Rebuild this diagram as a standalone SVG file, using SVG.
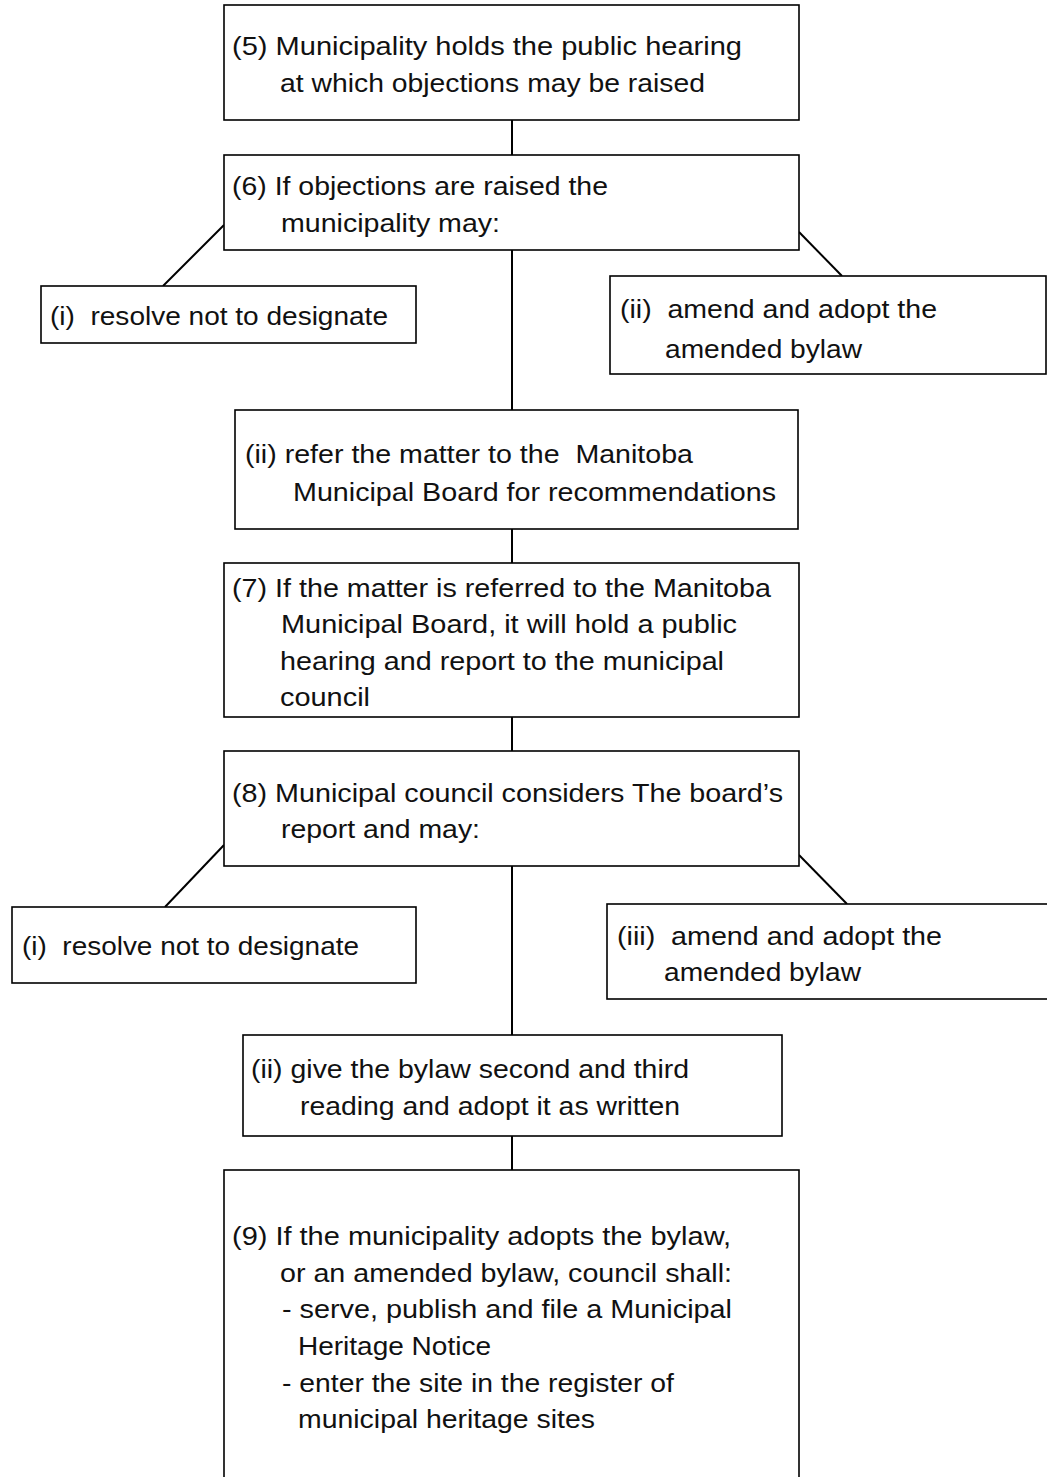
<svg xmlns="http://www.w3.org/2000/svg" width="1047" height="1477" viewBox="0 0 1047 1477">
<style>
rect{fill:#fff;stroke:#000;stroke-width:1.6}
line{stroke:#000;stroke-width:2}
text{font-family:"Liberation Sans",Arial,sans-serif;font-size:26px;fill:#111;white-space:pre}
</style>
<rect x="0" y="0" width="1047" height="1477" style="stroke:none"/>
<g id="connectors">
<line x1="512" y1="120" x2="512" y2="155"/>
<line x1="224" y1="225" x2="163" y2="286"/>
<line x1="799" y1="232" x2="842" y2="276"/>
<line x1="512" y1="250" x2="512" y2="410"/>
<line x1="512" y1="529" x2="512" y2="563"/>
<line x1="512" y1="717" x2="512" y2="751"/>
<line x1="224" y1="845" x2="165" y2="907"/>
<line x1="799" y1="855" x2="847" y2="904"/>
<line x1="512" y1="866" x2="512" y2="1035"/>
<line x1="512" y1="1136" x2="512" y2="1170"/>
</g>
<g id="n5"><rect x="224" y="5" width="575" height="115"/>
<text x="232" y="55" textLength="510" lengthAdjust="spacingAndGlyphs">(5) Municipality holds the public hearing</text>
<text x="280" y="92" textLength="425" lengthAdjust="spacingAndGlyphs">at which objections may be raised</text></g>
<g id="n6"><rect x="224" y="155" width="575" height="95"/>
<text x="232" y="195" textLength="376" lengthAdjust="spacingAndGlyphs">(6) If objections are raised the</text>
<text x="281" y="232" textLength="219" lengthAdjust="spacingAndGlyphs">municipality may:</text></g>
<g id="n6i"><rect x="41" y="286" width="375" height="57"/>
<text x="50" y="325" textLength="338" lengthAdjust="spacingAndGlyphs">(i)  resolve not to designate</text></g>
<g id="n6ii"><rect x="610" y="276" width="436" height="98"/>
<text x="620" y="318" textLength="317" lengthAdjust="spacingAndGlyphs">(ii)  amend and adopt the</text>
<text x="665" y="358" textLength="197" lengthAdjust="spacingAndGlyphs">amended bylaw</text></g>
<g id="n6refer"><rect x="235" y="410" width="563" height="119"/>
<text x="245" y="463" textLength="448" lengthAdjust="spacingAndGlyphs">(ii) refer the matter to the  Manitoba</text>
<text x="293" y="501" textLength="483" lengthAdjust="spacingAndGlyphs">Municipal Board for recommendations</text></g>
<g id="n7"><rect x="224" y="563" width="575" height="154"/>
<text x="232" y="597" textLength="539" lengthAdjust="spacingAndGlyphs">(7) If the matter is referred to the Manitoba</text>
<text x="281" y="633" textLength="456" lengthAdjust="spacingAndGlyphs">Municipal Board, it will hold a public</text>
<text x="280" y="670" textLength="444" lengthAdjust="spacingAndGlyphs">hearing and report to the municipal</text>
<text x="280" y="706" textLength="90" lengthAdjust="spacingAndGlyphs">council</text></g>
<g id="n8"><rect x="224" y="751" width="575" height="115"/>
<text x="232" y="802" textLength="551" lengthAdjust="spacingAndGlyphs">(8) Municipal council considers The board’s</text>
<text x="281" y="838" textLength="199" lengthAdjust="spacingAndGlyphs">report and may:</text></g>
<g id="n8i"><rect x="12" y="907" width="404" height="76"/>
<text x="22" y="955" textLength="337" lengthAdjust="spacingAndGlyphs">(i)  resolve not to designate</text></g>
<g id="n8iii"><rect x="607" y="904" width="442" height="95"/>
<text x="617" y="945" textLength="325" lengthAdjust="spacingAndGlyphs">(iii)  amend and adopt the</text>
<text x="664" y="981" textLength="197" lengthAdjust="spacingAndGlyphs">amended bylaw</text></g>
<g id="n8ii"><rect x="243" y="1035" width="539" height="101"/>
<text x="251" y="1078" textLength="438" lengthAdjust="spacingAndGlyphs">(ii) give the bylaw second and third</text>
<text x="300" y="1115" textLength="380" lengthAdjust="spacingAndGlyphs">reading and adopt it as written</text></g>
<g id="n9"><rect x="224" y="1170" width="575" height="320"/>
<text x="232" y="1245" textLength="499" lengthAdjust="spacingAndGlyphs">(9) If the municipality adopts the bylaw,</text>
<text x="280" y="1282" textLength="452" lengthAdjust="spacingAndGlyphs">or an amended bylaw, council shall:</text>
<text x="282" y="1318" textLength="450" lengthAdjust="spacingAndGlyphs">- serve, publish and file a Municipal</text>
<text x="298" y="1355" textLength="193" lengthAdjust="spacingAndGlyphs">Heritage Notice</text>
<text x="282" y="1392" textLength="392" lengthAdjust="spacingAndGlyphs">- enter the site in the register of</text>
<text x="298" y="1428" textLength="297" lengthAdjust="spacingAndGlyphs">municipal heritage sites</text></g>
</svg>
